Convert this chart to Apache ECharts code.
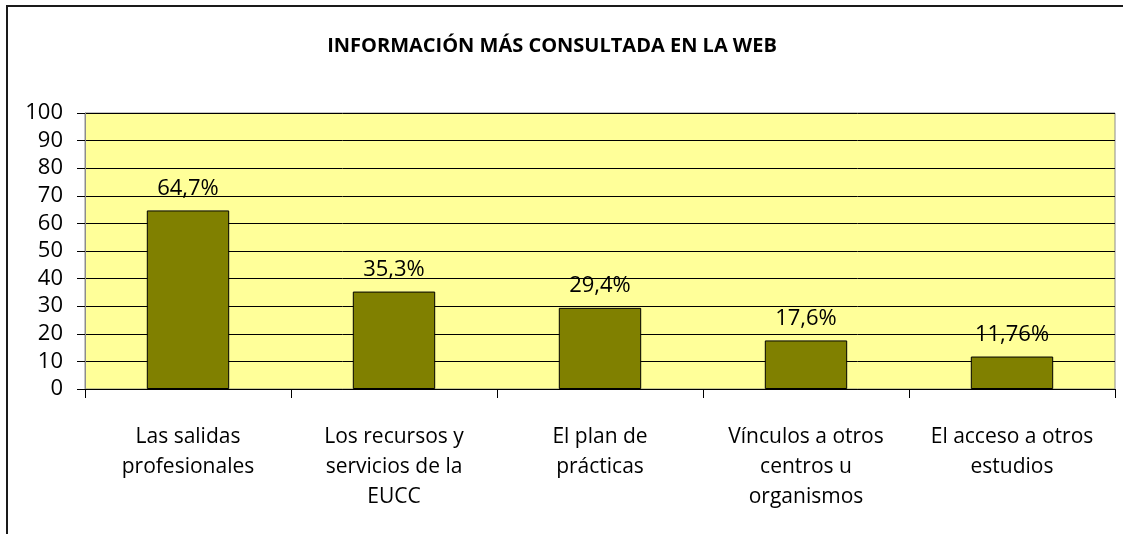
<!DOCTYPE html>
<html>
<head>
<meta charset="utf-8">
<script src="https://cdn.jsdelivr.net/npm/echarts@6/dist/echarts.min.js"></script>
<style>
  html, body { margin: 0; padding: 0; background: #fff; }
  #chart { width: 1123px; height: 534px; }
</style>
</head>
<body>
<div id="chart"></div>
<script>
// Categories (line breaks as shown on the axis)
const categories = [
  'Las salidas\nprofesionales',
  'Los recursos y\nservicios de la\nEUCC',
  'El plan de\nprácticas',
  'Vínculos a otros\ncentros u\norganismos',
  'El acceso a otros\nestudios'
];
// Percentage of respondents
const values = [64.7, 35.3, 29.4, 17.6, 11.76];
// Y axis range
const yMin = 0, yMax = 100, yStep = 10;

const FONT = '"Open Sans", "Liberation Sans", sans-serif';
const chart = echarts.init(document.getElementById('chart'), null, { renderer: 'canvas' });

chart.setOption({
  animation: false,
  backgroundColor: '#ffffff',
  title: {
    text: 'INFORMACIÓN MÁS CONSULTADA EN LA WEB',
    left: 547,
    top: 31,
    textAlign: 'center',
    textStyle: { fontFamily: FONT, fontWeight: 'bold', fontSize: 20, color: '#000' }
  },
  graphic: [{
    type: 'rect',
    shape: { x: 7, y: 6, width: 1300, height: 700 },
    style: { fill: 'none', stroke: '#1a1a1a', lineWidth: 2 },
    silent: true
  }],
  grid: {
    left: 85, right: 8, top: 113, bottom: 145,
    show: true,
    backgroundColor: '#ffff99',
    borderColor: '#8c8c8c',
    borderWidth: 1
  },
  xAxis: {
    type: 'category',
    data: categories,
    boundaryGap: true,
    axisLine: { show: true, lineStyle: { color: '#000', width: 1 } },
    axisTick: { show: true, length: 9, lineStyle: { color: '#000' } },
    axisLabel: {
      interval: 0,
      margin: 33,
      fontFamily: FONT,
      fontSize: 21,
      lineHeight: 30,
      color: '#000'
    },
    splitLine: { show: false }
  },
  yAxis: {
    type: 'value',
    min: yMin, max: yMax, interval: yStep,
    axisLine: { show: true, lineStyle: { color: '#8c8c8c' } },
    axisTick: { show: true, length: 8, inside: false, lineStyle: { color: '#000' } },
    axisLabel: { fontFamily: FONT, fontSize: 22, color: '#000', margin: 22 },
    splitLine: { show: true, lineStyle: { color: '#000', width: 1 } }
  },
  series: [{
    type: 'bar',
    data: values,
    barWidth: '40%',
    itemStyle: { color: '#808000', borderColor: '#000', borderWidth: 1 },
    label: {
      show: true,
      position: 'top',
      distance: 11,
      fontFamily: FONT,
      fontSize: 22,
      color: '#000',
      formatter: p => String(p.value).replace('.', ',') + '%'
    }
  }]
});
</script>
</body>
</html>
